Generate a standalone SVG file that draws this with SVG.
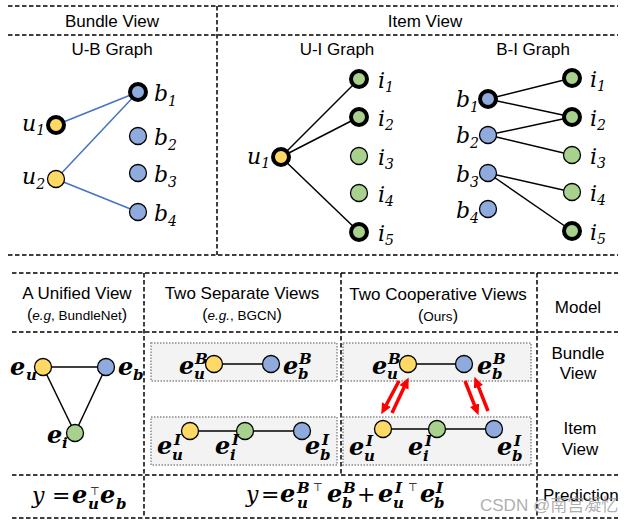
<svg xmlns="http://www.w3.org/2000/svg" width="631" height="524" viewBox="0 0 631 524">
<defs>
<style>
.dash{stroke:#000;stroke-width:1.5;stroke-dasharray:4.5 2.5;fill:none}
.t{font-family:"Liberation Sans",Arial,sans-serif;font-size:17px;fill:#000;text-anchor:middle}
.s{font-size:13.5px}
.m{font-family:"DejaVu Serif",serif;font-style:italic;fill:#000;font-size:22px}
.m .sb{font-size:14px}
.mb{font-family:"DejaVu Serif",serif;font-style:italic;font-weight:bold;fill:#000;font-size:24px}
.mb .ss{font-size:15px}
.up{font-family:"DejaVu Serif",serif;font-style:normal;font-weight:normal;font-size:22px}
.tp{font-family:"DejaVu Sans",sans-serif;font-style:normal;font-weight:normal;font-size:11px}
.n{stroke:#000;stroke-width:1.3}
.bn{stroke:#000;stroke-width:4}
.u{fill:#FFD966}.b{fill:#8FAADC}.i{fill:#A9D18E}
.e{stroke:#000;stroke-width:1.5}
.eb{stroke:#4472C4;stroke-width:1.5}
.box{fill:#F3F3F3;stroke:#A6A6A6;stroke-width:2;stroke-dasharray:1.5 1.5}
.ra{stroke:#FF0000;stroke-width:3.5;fill:none;marker-end:url(#rh)}
</style>
<marker id="rh" markerUnits="userSpaceOnUse" markerWidth="12" markerHeight="10" refX="0.5" refY="5" orient="auto">
<path d="M0,0 L11,5 L0,10 z" fill="#FF0000"/>
</marker>
</defs>
<rect width="631" height="524" fill="#fff"/>

<g id="frame">
<line class="dash" x1="8" y1="6" x2="618" y2="6"/>
<line class="dash" x1="8" y1="35" x2="618" y2="35"/>
<line class="dash" x1="8" y1="255" x2="618" y2="255"/>
<line class="dash" x1="217" y1="6" x2="217" y2="255"/>
<line class="dash" x1="12" y1="273" x2="618" y2="273"/>
<line class="dash" x1="12" y1="332" x2="618" y2="332"/>
<line class="dash" x1="12" y1="475" x2="618" y2="475"/>
<line class="dash" x1="12" y1="518" x2="618" y2="518"/>
<line class="dash" x1="144" y1="273" x2="144" y2="518"/>
<line class="dash" x1="341" y1="273" x2="341" y2="475"/>
<line class="dash" x1="537" y1="273" x2="537" y2="518"/>
<rect class="box" x="151" y="343" width="186" height="38"/>
<rect class="box" x="151" y="417" width="186" height="48"/>
<rect class="box" x="343" y="343" width="188" height="38"/>
<rect class="box" x="343" y="417" width="188" height="48"/>
</g>

<g id="headers">
<text class="t" x="112" y="27">Bundle View</text>
<text class="t" x="425" y="27">Item View</text>
<text class="t" x="112" y="55">U-B Graph</text>
<text class="t" x="337" y="55">U-I Graph</text>
<text class="t" x="533" y="55">B-I Graph</text>
<text class="t" x="77" y="299">A Unified View</text>
<text class="t s" x="77" y="320"><tspan font-size="16">(</tspan><tspan font-style="italic">e.g</tspan>, BundleNet<tspan font-size="16">)</tspan></text>
<text class="t" x="242" y="299">Two Separate Views</text>
<text class="t s" x="242" y="320"><tspan font-size="16">(</tspan><tspan font-style="italic">e.g.</tspan>, BGCN<tspan font-size="16">)</tspan></text>
<text class="t" x="438" y="300">Two Cooperative Views</text>
<text class="t s" x="438" y="321"><tspan font-size="16">(</tspan>Ours<tspan font-size="16">)</tspan></text>
<text class="t" x="578" y="313">Model</text>
<text class="t" x="578" y="359">Bundle</text>
<text class="t" x="578" y="379">View</text>
<text class="t" x="580" y="434">Item</text>
<text class="t" x="580" y="455">View</text>
<text class="t" x="543" y="501" style="text-anchor:start">Prediction</text>
</g>

<g id="connectors">
<line class="eb" x1="56" y1="125" x2="138" y2="92"/>
<line class="eb" x1="56" y1="179" x2="138" y2="92"/>
<line class="eb" x1="56" y1="179" x2="138" y2="212"/>
<line class="e" x1="281" y1="157" x2="359" y2="79"/>
<line class="e" x1="281" y1="157" x2="359" y2="117"/>
<line class="e" x1="281" y1="157" x2="359" y2="232"/>
<line class="e" x1="488" y1="99" x2="572" y2="78"/>
<line class="e" x1="488" y1="99" x2="572" y2="117"/>
<line class="e" x1="488" y1="135" x2="572" y2="117"/>
<line class="e" x1="488" y1="135" x2="572" y2="155"/>
<line class="e" x1="488" y1="173" x2="572" y2="192"/>
<line class="e" x1="488" y1="173" x2="572" y2="231"/>
<line class="e" x1="43" y1="367" x2="106" y2="367"/>
<line class="e" x1="43" y1="367" x2="75" y2="433"/>
<line class="e" x1="106" y1="367" x2="75" y2="433"/>
<line class="e" x1="214" y1="364" x2="271" y2="364"/>
<line class="e" x1="190" y1="431" x2="302" y2="431"/>
<line class="e" x1="408" y1="364" x2="464" y2="364"/>
<line class="e" x1="383" y1="429" x2="494" y2="429"/>
<line class="ra" x1="399" y1="381" x2="386.2" y2="405"/>
<line class="ra" x1="392" y1="413" x2="404.2" y2="387"/>
<line class="ra" x1="465" y1="381" x2="474.7" y2="405.6"/>
<line class="ra" x1="488" y1="411" x2="478.3" y2="386.4"/>
</g>

<g id="ub-u1"><circle class="bn u" cx="56" cy="125" r="8"/><text class="m" x="22" y="131">u<tspan class="sb" dy="4">1</tspan></text></g>
<g id="ub-u2"><circle class="n u" cx="56" cy="179" r="8.5"/><text class="m" x="22" y="184">u<tspan class="sb" dy="5">2</tspan></text></g>
<g id="ub-b1"><circle class="bn b" cx="138" cy="92" r="8"/><text class="m" x="154" y="101">b<tspan class="sb" dy="5">1</tspan></text></g>
<g id="ub-b2"><circle class="n b" cx="138" cy="136" r="8.5"/><text class="m" x="154" y="145">b<tspan class="sb" dy="5">2</tspan></text></g>
<g id="ub-b3"><circle class="n b" cx="138" cy="173" r="8.5"/><text class="m" x="154" y="182">b<tspan class="sb" dy="5">3</tspan></text></g>
<g id="ub-b4"><circle class="n b" cx="138" cy="212" r="8.5"/><text class="m" x="154" y="221">b<tspan class="sb" dy="5">4</tspan></text></g>

<g id="ui-u1"><circle class="bn u" cx="281" cy="157" r="8"/><text class="m" x="247" y="164">u<tspan class="sb" dy="4">1</tspan></text></g>
<g id="ui-i1"><circle class="bn i" cx="359" cy="79" r="8"/><text class="m" x="378" y="88">i<tspan class="sb" dy="4">1</tspan></text></g>
<g id="ui-i2"><circle class="bn i" cx="359" cy="117" r="8"/><text class="m" x="378" y="126">i<tspan class="sb" dy="4">2</tspan></text></g>
<g id="ui-i3"><circle class="n i" cx="359" cy="156" r="8.5"/><text class="m" x="378" y="165">i<tspan class="sb" dy="4">3</tspan></text></g>
<g id="ui-i4"><circle class="n i" cx="359" cy="193" r="8.5"/><text class="m" x="378" y="202">i<tspan class="sb" dy="4">4</tspan></text></g>
<g id="ui-i5"><circle class="bn i" cx="359" cy="232" r="8"/><text class="m" x="378" y="241">i<tspan class="sb" dy="4">5</tspan></text></g>

<g id="bi-b1"><circle class="bn b" cx="488" cy="99" r="8"/><text class="m" x="456" y="107">b<tspan class="sb" dy="5">1</tspan></text></g>
<g id="bi-b2"><circle class="n b" cx="488" cy="135" r="8.5"/><text class="m" x="456" y="143">b<tspan class="sb" dy="5">2</tspan></text></g>
<g id="bi-b3"><circle class="n b" cx="488" cy="173" r="8.5"/><text class="m" x="456" y="182">b<tspan class="sb" dy="5">3</tspan></text></g>
<g id="bi-b4"><circle class="n b" cx="488" cy="209" r="8.5"/><text class="m" x="456" y="218">b<tspan class="sb" dy="5">4</tspan></text></g>
<g id="bi-i1"><circle class="bn i" cx="572" cy="78" r="8"/><text class="m" x="590" y="87">i<tspan class="sb" dy="4">1</tspan></text></g>
<g id="bi-i2"><circle class="bn i" cx="572" cy="117" r="8"/><text class="m" x="590" y="126">i<tspan class="sb" dy="4">2</tspan></text></g>
<g id="bi-i3"><circle class="n i" cx="572" cy="155" r="8.5"/><text class="m" x="590" y="164">i<tspan class="sb" dy="4">3</tspan></text></g>
<g id="bi-i4"><circle class="n i" cx="572" cy="192" r="8.5"/><text class="m" x="590" y="201">i<tspan class="sb" dy="4">4</tspan></text></g>
<g id="bi-i5"><circle class="bn i" cx="572" cy="231" r="8"/><text class="m" x="590" y="240">i<tspan class="sb" dy="4">5</tspan></text></g>

<g id="uni-eu"><circle class="n u" cx="43" cy="367" r="8.5"/><text class="mb"><tspan x="10" y="375">e</tspan><tspan class="ss" x="26" y="380">u</tspan></text></g>
<g id="uni-eb"><circle class="n b" cx="106" cy="367" r="8.5"/><text class="mb"><tspan x="118" y="375">e</tspan><tspan class="ss" x="133" y="380">b</tspan></text></g>
<g id="uni-ei"><circle class="n i" cx="75" cy="433" r="8.5"/><text class="mb"><tspan x="47" y="443">e</tspan><tspan class="ss" x="62" y="448">i</tspan></text></g>

<g id="sep-euB"><circle class="n u" cx="214" cy="364" r="8.5"/><text class="mb"><tspan x="179" y="374">e</tspan><tspan class="ss" x="195" y="364">B</tspan><tspan class="ss" x="194" y="379">u</tspan></text></g>
<g id="sep-ebB"><circle class="n b" cx="271" cy="364" r="8.5"/><text class="mb"><tspan x="283" y="374">e</tspan><tspan class="ss" x="299" y="364">B</tspan><tspan class="ss" x="298" y="379">b</tspan></text></g>
<g id="sep-euI"><circle class="n u" cx="190" cy="431" r="8.5"/><text class="mb"><tspan x="157" y="454">e</tspan><tspan class="ss" x="174" y="445">I</tspan><tspan class="ss" x="172" y="460">u</tspan></text></g>
<g id="sep-eiI"><circle class="n i" cx="245" cy="431" r="8.5"/><text class="mb"><tspan x="215" y="454">e</tspan><tspan class="ss" x="232" y="445">I</tspan><tspan class="ss" x="230" y="460">i</tspan></text></g>
<g id="sep-ebI"><circle class="n b" cx="302" cy="431" r="8.5"/><text class="mb"><tspan x="305" y="454">e</tspan><tspan class="ss" x="322" y="445">I</tspan><tspan class="ss" x="320" y="460">b</tspan></text></g>

<g id="coop-euB"><circle class="n u" cx="408" cy="364" r="8.5"/><text class="mb"><tspan x="372" y="374">e</tspan><tspan class="ss" x="388" y="364">B</tspan><tspan class="ss" x="387" y="379">u</tspan></text></g>
<g id="coop-ebB"><circle class="n b" cx="464" cy="364" r="8.5"/><text class="mb"><tspan x="477" y="374">e</tspan><tspan class="ss" x="493" y="364">B</tspan><tspan class="ss" x="492" y="379">b</tspan></text></g>
<g id="coop-euI"><circle class="n u" cx="383" cy="429" r="8.5"/><text class="mb"><tspan x="349" y="455">e</tspan><tspan class="ss" x="366" y="446">I</tspan><tspan class="ss" x="364" y="461">u</tspan></text></g>
<g id="coop-eiI"><circle class="n i" cx="437" cy="429" r="8.5"/><text class="mb"><tspan x="408" y="455">e</tspan><tspan class="ss" x="425" y="446">I</tspan><tspan class="ss" x="423" y="461">i</tspan></text></g>
<g id="coop-ebI"><circle class="n b" cx="494" cy="429" r="8.5"/><text class="mb"><tspan x="497" y="455">e</tspan><tspan class="ss" x="514" y="446">I</tspan><tspan class="ss" x="512" y="461">b</tspan></text></g>

<g id="formulas">
<text class="mb"><tspan class="up" style="font-style:italic" x="32" y="503">y</tspan><tspan class="up" x="52" y="503">=</tspan><tspan x="72" y="503">e</tspan><tspan class="tp" x="90" y="495">⊤</tspan><tspan class="ss" x="88" y="509">u</tspan><tspan x="100" y="503">e</tspan><tspan class="ss" x="116" y="509">b</tspan></text>
<text class="mb"><tspan class="up" style="font-style:italic" x="246" y="502">y</tspan><tspan class="up" x="261" y="502">=</tspan><tspan x="280" y="502">e</tspan><tspan class="ss" x="297" y="493">B</tspan><tspan class="tp" x="313" y="491">⊤</tspan><tspan class="ss" x="297" y="508">u</tspan><tspan x="327" y="502">e</tspan><tspan class="ss" x="343" y="493">B</tspan><tspan class="ss" x="342" y="508">b</tspan><tspan class="up" x="357" y="502">+</tspan><tspan x="378" y="502">e</tspan><tspan class="ss" x="395" y="493">I</tspan><tspan class="tp" x="408" y="491">⊤</tspan><tspan class="ss" x="393" y="508">u</tspan><tspan x="420" y="502">e</tspan><tspan class="ss" x="436" y="493">I</tspan><tspan class="ss" x="434" y="508">b</tspan></text>
</g>

<text x="480" y="511" font-family="Liberation Sans, Noto Sans CJK SC, sans-serif" font-size="17" fill="#A0A0A0" fill-opacity="0.85">CSDN @南宫凝忆</text>
</svg>
